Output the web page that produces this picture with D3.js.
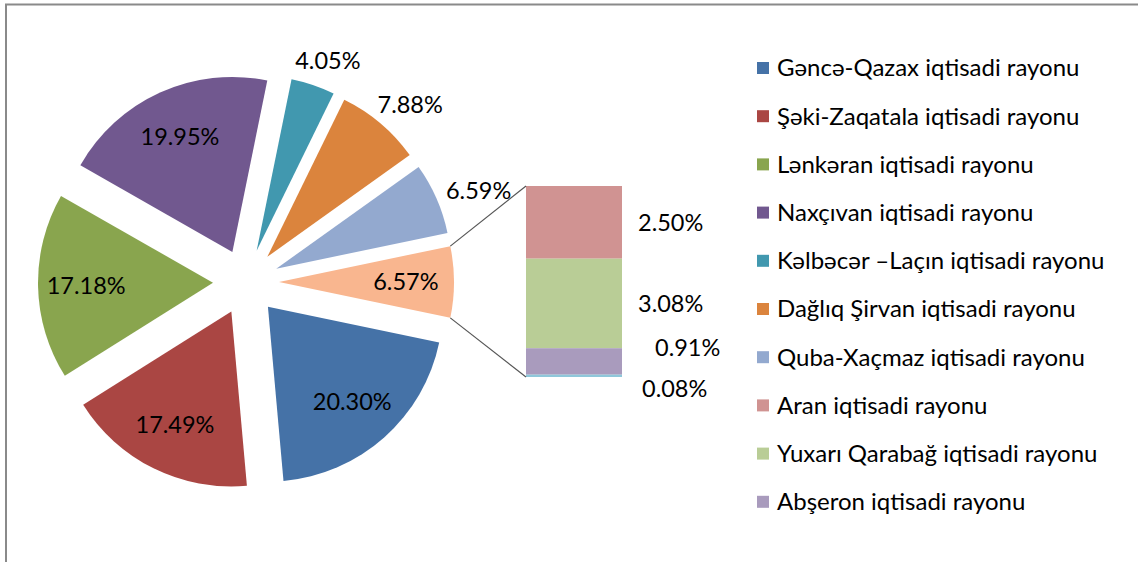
<!DOCTYPE html>
<html>
<head>
<meta charset="utf-8">
<script src="https://cdn.jsdelivr.net/npm/d3@7"></script>
<style>
  body { margin: 0; background: #fff; }
  text { font-family: Lato, "Open Sans", sans-serif; fill: #000; }
</style>
</head>
<body>
<div id="chart"></div>
<script>
// Pie slices (main pie), in the order they follow clockwise after the "other" slice
const pieNames = [
    "Gəncə-Qazax iqtisadi rayonu",
    "Şəki-Zaqatala iqtisadi rayonu",
    "Lənkəran iqtisadi rayonu",
    "Naxçıvan iqtisadi rayonu",
    "Kəlbəcər –Laçın iqtisadi rayonu",
    "Dağlıq Şirvan iqtisadi rayonu",
    "Quba-Xaçmaz iqtisadi rayonu"
];
const pieValues = [20.30, 17.49, 17.18, 19.95, 4.05, 7.88, 6.59];
const pieColors = ["#4572A7", "#AA4643", "#89A54E", "#71588F", "#4198AF", "#DB843D", "#93A9CF"];

// Small regions that are pulled out into the bar
const barNames = [
    "Aran iqtisadi rayonu",
    "Yuxarı Qarabağ iqtisadi rayonu",
    "Abşeron iqtisadi rayonu",
    "Bakı şəhəri"
];
const barValues = [2.50, 3.08, 0.91, 0.08];
const barColors = ["#D09392", "#B9CD96", "#A99BBD", "#8FC7DA"];
const otherColor = "#F9B68F";

// labels drawn outside their slices
const outsideLabels = new Set(["Kəlbəcər –Laçın iqtisadi rayonu", "Dağlıq Şirvan iqtisadi rayonu", "Quba-Xaçmaz iqtisadi rayonu"]);

const width = 1138, height = 562;
const cx = 246, cy = 282, radius = 175, explode = 33;
const fontSize = 23.5;
const fmt = v => v.toFixed(2) + "%";

const svg = d3.select("#chart")
    .append("svg")
    .attr("width", width)
    .attr("height", height);

// chart frame (only top and left edges visible)
svg.append("rect")
    .attr("x", 6).attr("y", 4.5)
    .attr("width", width + 20).attr("height", height + 20)
    .attr("fill", "none")
    .attr("stroke", "#8a8a8a")
    .attr("stroke-width", 2);

const otherTotal = d3.sum(barValues);
const total = d3.sum(pieValues) + otherTotal;

const slices = [{name: "other", value: otherTotal, color: otherColor, other: true}]
    .concat(pieNames.map((n, i) => ({name: n, value: pieValues[i], color: pieColors[i]})));

// "other" slice is centred on 3 o'clock
const otherAngle = 2 * Math.PI * otherTotal / total;
const start = Math.PI / 2 - otherAngle / 2;

const pie = d3.pie()
    .sort(null)
    .value(d => d.value)
    .startAngle(start)
    .endAngle(start + 2 * Math.PI);

const arcs = pie(slices);
const arc = d3.arc().innerRadius(0).outerRadius(radius);

const pieG = svg.append("g").attr("transform", `translate(${cx},${cy})`);

arcs.forEach(a => {
    const mid = (a.startAngle + a.endAngle) / 2;
    a.mid = mid;
    a.ox = explode * Math.sin(mid);
    a.oy = -explode * Math.cos(mid);
});

pieG.selectAll(".slice")
    .data(arcs)
    .enter().append("path")
    .attr("class", "slice")
    .attr("transform", d => `translate(${d.ox},${d.oy})`)
    .attr("d", arc)
    .attr("fill", d => d.data.color);

// slice labels
arcs.forEach(a => {
    const ux = Math.sin(a.mid), uy = -Math.cos(a.mid);
    const txt = fmt(a.data.value);
    let x, y;
    if (outsideLabels.has(a.data.name)) {
        const rr = radius + 18;
        x = a.ox + ux * rr + ux * 28;
        y = a.oy + uy * rr + uy * 12 + 4;
    } else {
        const rr = radius * 0.725;
        x = a.ox + ux * rr;
        y = a.oy + uy * rr;
    }
    pieG.append("text")
        .attr("x", x).attr("y", y)
        .attr("dy", "0.35em")
        .attr("text-anchor", "middle")
        .style("font-size", fontSize + "px")
        .text(txt);
});

// bar of the small regions
const barX = 526, barW = 96, barTop = 186, barBottom = 377;
const yBar = d3.scaleLinear().domain([0, otherTotal]).range([barTop, barBottom]);

let acc = 0;
const segs = barValues.map((v, i) => {
    const s = {name: barNames[i], value: v, color: barColors[i], y0: acc, y1: acc + v};
    acc += v;
    return s;
});

svg.selectAll(".seg")
    .data(segs)
    .enter().append("rect")
    .attr("class", "seg")
    .attr("x", barX)
    .attr("width", barW)
    .attr("y", d => yBar(d.y0))
    .attr("height", d => yBar(d.y1) - yBar(d.y0))
    .attr("fill", d => d.color);

// bar labels, spread apart when they would overlap
const minGap = 41;
const labelY = segs.map(s => (yBar(s.y0) + yBar(s.y1)) / 2);
for (let i = 1; i < labelY.length; i++) {
    if (labelY[i] - labelY[i - 1] < minGap) {
        const c = (labelY[i] + labelY[i - 1]) / 2;
        labelY[i - 1] = c - minGap / 2;
        labelY[i] = c + minGap / 2;
    }
}
svg.selectAll(".segLabel")
    .data(segs)
    .enter().append("text")
    .attr("class", "segLabel")
    .attr("x", (d, i) => barX + barW + 16 + (labelY[i] !== (yBar(d.y0) + yBar(d.y1)) / 2 ? (i === 2 ? 17 : 4) : 0))
    .attr("y", (d, i) => labelY[i])
    .attr("dy", "0.35em")
    .style("font-size", fontSize + "px")
    .text(d => fmt(d.value));

// connector lines from the "other" slice to the bar
const o = arcs[0];
const p1 = [cx + o.ox + radius * Math.sin(o.startAngle), cy + o.oy - radius * Math.cos(o.startAngle)];
const p2 = [cx + o.ox + radius * Math.sin(o.endAngle), cy + o.oy - radius * Math.cos(o.endAngle)];
svg.append("line")
    .attr("x1", p1[0]).attr("y1", p1[1])
    .attr("x2", barX).attr("y2", barTop)
    .attr("stroke", "#555").attr("stroke-width", 1.2);
svg.append("line")
    .attr("x1", p2[0]).attr("y1", p2[1])
    .attr("x2", barX).attr("y2", barBottom)
    .attr("stroke", "#555").attr("stroke-width", 1.2);

// legend (only the rows that fit in the chart area are shown)
const legendNames = pieNames.concat(barNames).slice(0, 10);
const legendColors = pieColors.concat(barColors).slice(0, 10);
const legend = svg.append("g").attr("transform", "translate(757,68)");
const rowH = 48.2;

const items = legend.selectAll(".legend-item")
    .data(legendNames)
    .enter().append("g")
    .attr("class", "legend-item")
    .attr("transform", (d, i) => `translate(0,${i * rowH})`);

items.append("rect")
    .attr("y", -6)
    .attr("width", 12)
    .attr("height", 12)
    .attr("fill", (d, i) => legendColors[i]);

items.append("text")
    .attr("x", 20)
    .attr("dy", "0.35em")
    .style("font-size", "24px")
    .text(d => d);
</script>
</body>
</html>
